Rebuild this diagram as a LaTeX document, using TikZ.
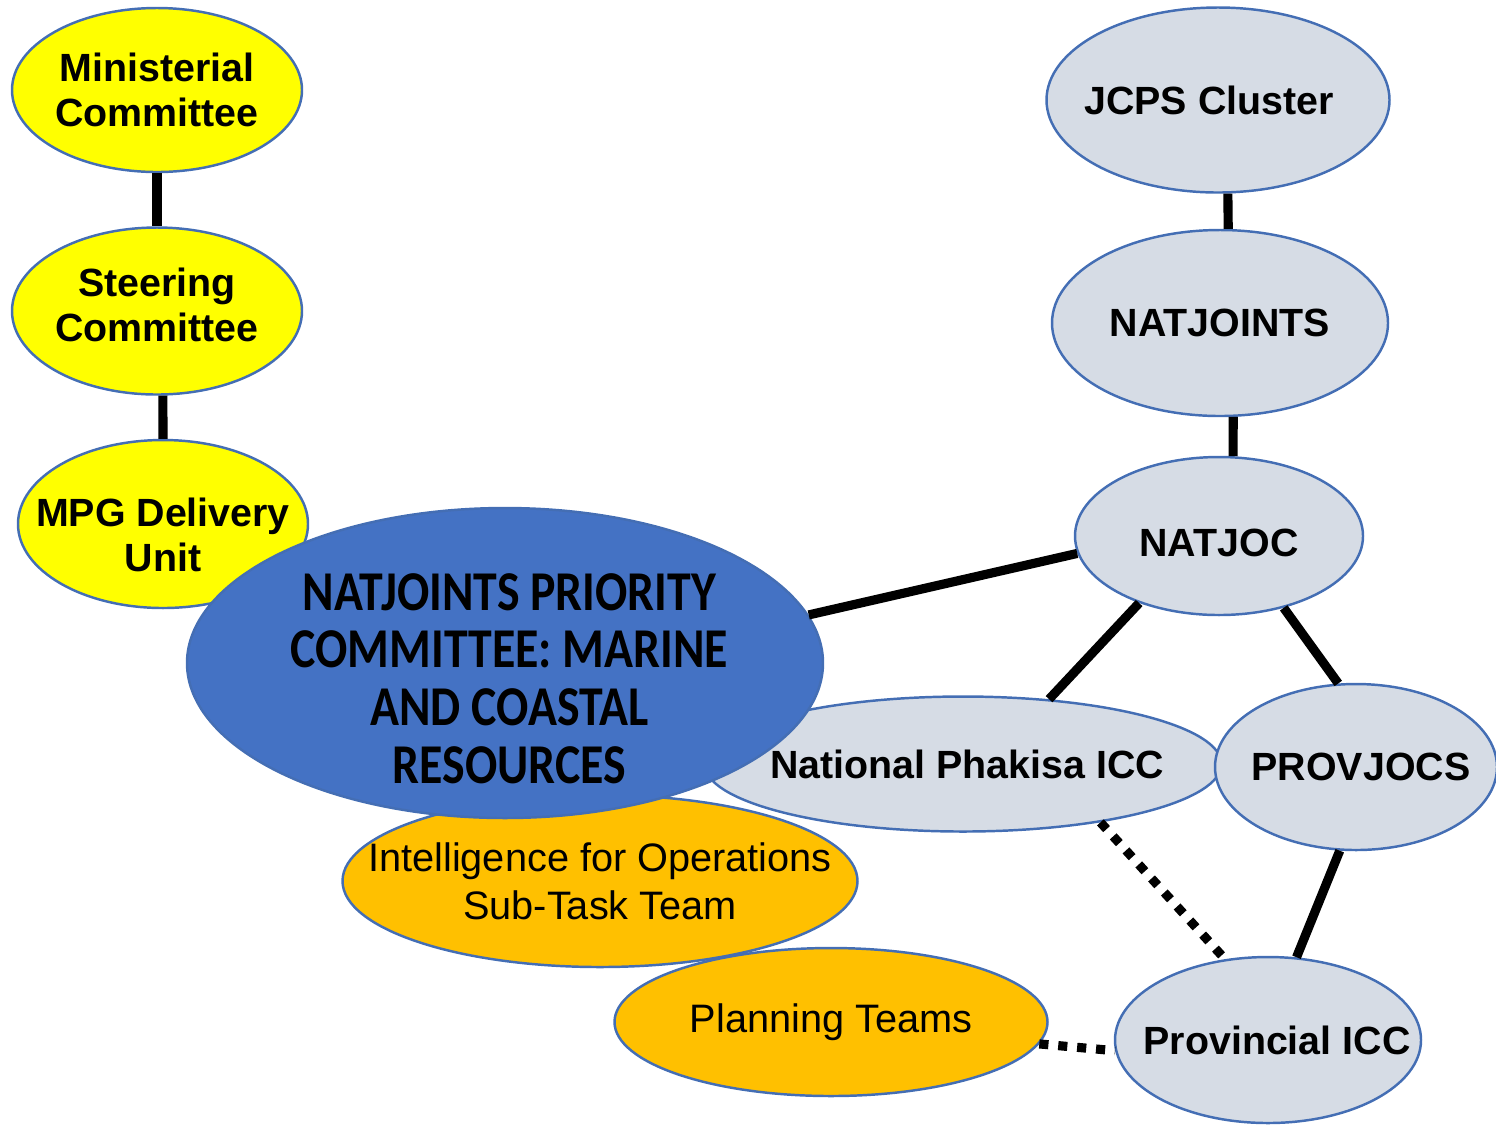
\documentclass[tikz,border=0pt]{standalone}
\usepackage{fontspec}
\setmainfont{Liberation Sans}
\newfontfamily\calibri{Carlito}
\usetikzlibrary{shapes.geometric}
\definecolor{edgeblue}{RGB}{68,110,180}
\definecolor{ylw}{RGB}{255,255,0}
\definecolor{prioblue}{RGB}{68,114,196}
\definecolor{ccgrey}{RGB}{214,220,229}
\definecolor{orng}{RGB}{255,192,0}

\begin{document}
\begin{tikzpicture}
\tikzstyle{bub}=[ellipse,draw=edgeblue,line width=0.7pt,inner sep=0pt]
\tikzstyle{lbl}=[align=center,font=\bfseries\fontsize{11.2}{13}\selectfont]
\tikzstyle{lblplain}=[align=center,font=\fontsize{11.3}{13.6}\selectfont]
\tikzstyle{lblbig}=[align=center,font=\calibri\bfseries\fontsize{16}{16.4}\selectfont,transform shape,xscale=0.85]
\tikzstyle{solidlink}=[line width=2.6pt]
\tikzstyle{dotlink}=[line width=2.6pt,dash pattern=on 2.6pt off 2.8pt]

\useasboundingbox (0,0) rectangle (14.96,-11.25);

% left column
\node[bub,fill=ylw,minimum width=2.9cm,minimum height=1.64cm,label={[lbl]center:Ministerial\\Committee}] (minc) at (1.57,-0.90) {};
\node[bub,fill=ylw,minimum width=2.9cm,minimum height=1.67cm,label={[lbl,yshift=0.06cm]center:Steering\\Committee}] (steer) at (1.57,-3.11) {};
\node[bub,fill=ylw,minimum width=2.9cm,minimum height=1.68cm,label={[lbl,yshift=-0.11cm]center:MPG Delivery\\Unit}] (mpg) at (1.63,-5.24) {};

% right column
\node[bub,fill=ccgrey,minimum width=3.43cm,minimum height=1.85cm,label={[lbl,xshift=-0.09cm]center:JCPS Cluster}] (jcps) at (12.18,-1.00) {};
\node[bub,fill=ccgrey,minimum width=3.36cm,minimum height=1.86cm,label={[lbl]center:NATJOINTS}] (natjoints) at (12.20,-3.23) {};
\node[bub,fill=ccgrey,minimum width=2.88cm,minimum height=1.58cm,label={[lbl,yshift=-0.07cm]center:NATJOC}] (natjoc) at (12.19,-5.36) {};

% lower part
\node[bub,fill=orng,minimum width=5.15cm,minimum height=1.72cm,label={[lblplain]center:Intelligence for Operations\\Sub-Task Team}] (intel) at (6.00,-8.81) {};
\node[bub,fill=orng,minimum width=4.33cm,minimum height=1.48cm,label={[lblplain]center:Planning Teams}] (plan) at (8.31,-10.22) {};
\node[bub,fill=ccgrey,minimum width=5.17cm,minimum height=1.35cm,label={[lbl,xshift=0.04cm]center:National Phakisa ICC}] (phakisa) at (9.63,-7.64) {};
\node[bub,fill=ccgrey,minimum width=2.82cm,minimum height=1.66cm,label={[lbl,xshift=0.05cm]center:PROVJOCS}] (provjocs) at (13.56,-7.67) {};
\node[bub,fill=ccgrey,minimum width=3.06cm,minimum height=1.66cm,label={[lbl,xshift=0.09cm]center:Provincial ICC}] (provicc) at (12.68,-10.40) {};

\node[bub,fill=prioblue,minimum width=6.36cm,minimum height=3.10cm,label={[lblbig,xshift=0.05cm,yshift=-0.155cm]center:NATJOINTS PRIORITY\\COMMITTEE: MARINE\\AND COASTAL\\RESOURCES}] (prio) at (5.05,-6.63) {};

\draw[solidlink] (minc) -- (steer);
\draw[solidlink] (steer.274) -- (mpg);
\draw[solidlink] (jcps.276) -- (natjoints.85);
\draw[solidlink] (natjoints.278) -- (natjoc.80);
\draw[solidlink] (prio.9) -- (natjoc.187);
\draw[solidlink] (natjoc.220) -- (phakisa.37);
\draw[solidlink] (natjoc.312) -- (provjocs.102);
\draw[solidlink] (provjocs.259) -- (provicc.71);
\draw[dotlink] (phakisa.337) -- (provicc.118);
\draw[dotlink] (plan.354) -- (provicc.184);

\end{tikzpicture}
\end{document}
